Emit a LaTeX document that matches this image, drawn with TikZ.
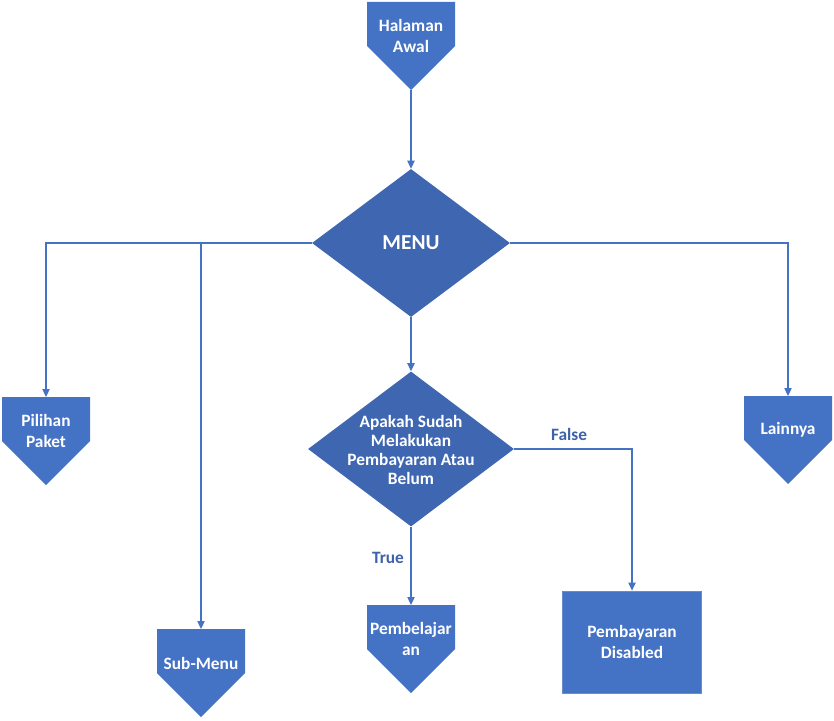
\documentclass[tikz,border=0pt]{standalone}
\usepackage{fontspec}
\setmainfont{Carlito}
\usetikzlibrary{shapes.geometric,arrows.meta,calc}
\definecolor{shapeblue}{HTML}{4472C4}
\definecolor{decblue}{HTML}{3F66B1}
\definecolor{linkblue}{HTML}{4472C4}
\definecolor{labelblue}{HTML}{3D62A8}
\definecolor{rimblue}{HTML}{6A8CCF}
\newcommand{\pxlen}{0.75pt}

% off-page connector: name, centre x, top y, text
\newcommand{\offpage}[4]{%
  \fill[shapeblue] (#2-44,#3) -- (#2+44,#3) -- (#2+44,#3+44) -- (#2,#3+88) -- (#2-44,#3+44) -- cycle;
  \coordinate (#1-top) at (#2,#3);
  \coordinate (#1-tip) at (#2,#3+88);
  \node[txt] (#1) at (#2,#3+34) {#4};}

\begin{document}
\begin{tikzpicture}[x=0.75pt,y=-0.75pt,
  conn/.style={draw=linkblue, line width=0.8pt},
  arr/.style={conn, -{Triangle[length=6pt,width=5.5pt]}},
  txt/.style={text=white, font=\bfseries\fontsize{13}{15.6}\selectfont, align=center, inner sep=0pt},
  decision/.style={diamond, fill=decblue, inner sep=0pt},
  lbl/.style={text=labelblue, font=\bfseries\fontsize{13}{15.6}\selectfont, inner sep=0pt}]
\useasboundingbox (0,0) rectangle (834,720);

% start
\offpage{halaman}{411}{2}{Halaman\\Awal}

% main menu decision
\node[decision, minimum width=198*\pxlen, minimum height=148*\pxlen] (menu) at (411,243) {};
\node[text=white, font=\bfseries\fontsize{16}{19}\selectfont, inner sep=0pt] (menutxt) at (411,243) {MENU};

% payment decision
\node[decision, minimum width=206*\pxlen, minimum height=155*\pxlen] (decision) at (411,449) {};
\node[txt, font=\bfseries\fontsize{13}{14.3}\selectfont] (dectxt) at (411,450) {Apakah Sudah\\Melakukan\\Pembayaran Atau\\Belum};

% targets
\offpage{pilihan}{46}{397}{Pilihan\\Paket}
\offpage{lainnya}{788}{396}{Lainnya}
\offpage{submenu}{201}{629}{Sub-Menu}
\offpage{pembelajaran}{411}{605}{Pembelajar\\an}
\node[txt, fill=shapeblue, draw=rimblue, line width=0.6pt,
      minimum width=139*\pxlen, minimum height=102*\pxlen] (disabled) at (632,642) {Pembayaran\\Disabled};

% connectors
\draw[arr] (halaman-tip) -- (menu.north);
\draw[arr] (menu.west) -| (pilihan-top);
\draw[arr] (menu.west) -| (submenu-top);
\draw[arr] (menu.east) -| (lainnya-top);
\draw[arr] (menu.south) -- (decision.north);
\draw[arr] (decision.east) -| (disabled.north);
\draw[arr] (decision.south) -- (pembelajaran-top);

% branch labels
\node[lbl] (falselbl) at (569,434) {False};
\node[lbl] (truelbl) at (388,558) {True};
\end{tikzpicture}
\end{document}
